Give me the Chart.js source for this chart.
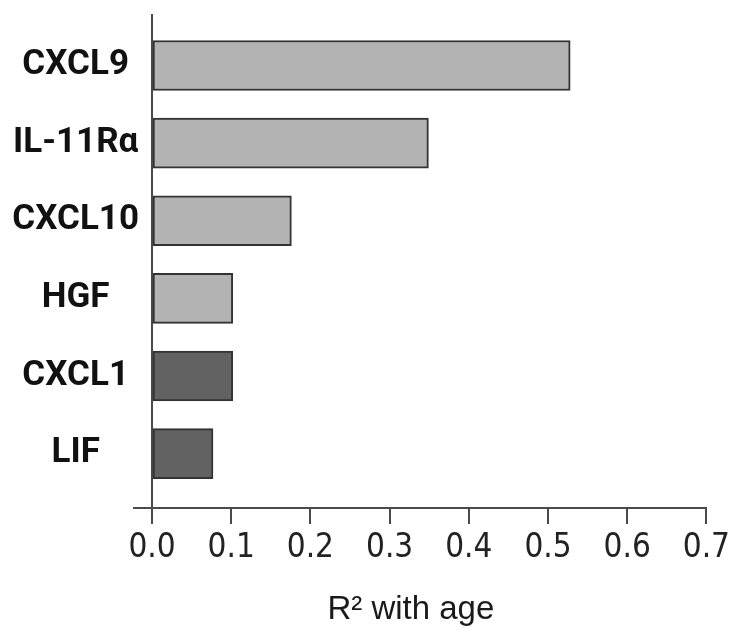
<!DOCTYPE html>
<html>
<head>
<meta charset="utf-8">
<script src="https://cdn.jsdelivr.net/npm/chart.js@4/dist/chart.umd.min.js"></script>
<style>
  html, body { margin: 0; padding: 0; background: #fff; }
  #wrap { width: 735px; height: 636px; }
</style>
</head>
<body>
<div id="wrap"><canvas id="chart" width="735" height="636"></canvas></div>
<script>
// values
const categories = ['CXCL9', 'IL-11Rα', 'CXCL10', 'HGF', 'CXCL1', 'LIF'];
const r2Values = [0.528, 0.349, 0.176, 0.102, 0.102, 0.077];
const barShade = ['light', 'light', 'light', 'light', 'dark', 'dark'];
const xTicks = [0.0, 0.1, 0.2, 0.3, 0.4, 0.5, 0.6, 0.7];

const axisColor = '#4a4a4a';
const shadeColors = { light: '#b3b3b3', dark: '#626262' };

// category index axis as a linear scale so the rows can sit off the edges like the original
const yMin = -0.65;
const yMax = 5.7;

const points = categories.map((name, i) => ({ x: r2Values[i], y: i }));

new Chart(document.getElementById('chart'), {
  type: 'bar',
  data: {
    datasets: [{
      data: points,
      backgroundColor: barShade.map((s) => shadeColors[s]),
      borderColor: '#333',
      borderWidth: 2,
      borderSkipped: false,
      barThickness: 50,
    }],
  },
  options: {
    indexAxis: 'y',
    responsive: false,
    animation: false,
    layout: { padding: { top: 13, left: 12, right: 0, bottom: 0 } },
    plugins: {
      legend: { display: false },
      tooltip: { enabled: false },
    },
    scales: {
      y: {
        type: 'linear',
        reverse: true,
        offset: false,
        min: yMin,
        max: yMax,
        afterBuildTicks: (scale) => {
          scale.ticks = [yMin, 0, 1, 2, 3, 4, 5, yMax].map((v) => ({ value: v }));
        },
        afterFit: (scale) => { scale.width = 140; },
        border: { color: axisColor, width: 2 },
        grid: {
          offset: false,
          drawOnChartArea: false,
          tickLength: 19,
          lineWidth: 2,
          // only the bottom tick shows: it is the stub of the x axis left of the y axis
          color: (ctx) => (ctx.tick && ctx.tick.value === yMax ? axisColor : 'rgba(0,0,0,0)'),
        },
        ticks: {
          crossAlign: 'center',
          padding: -6,
          color: '#111',
          font: { family: 'Roboto', weight: 'bold', size: 35 },
          callback: (v) => (Number.isInteger(v) && categories[v] !== undefined ? categories[v] : ''),
        },
      },
      x: {
        type: 'linear',
        min: 0,
        max: 0.7,
        afterBuildTicks: (scale) => {
          scale.ticks = xTicks.map((v) => ({ value: v }));
        },
        afterFit: (scale) => { scale.height = 128; },
        border: { color: axisColor, width: 2 },
        grid: {
          drawOnChartArea: false,
          tickLength: 16,
          lineWidth: 2,
          color: axisColor,
        },
        ticks: {
          padding: 5,
          color: '#222',
          maxRotation: 0,
          font: { family: '"DejaVu Sans Condensed", "DejaVu Sans", sans-serif', size: 33 },
          callback: (v) => Number(v).toFixed(1),
        },
        title: {
          display: true,
          // trailing spaces nudge the centred title left, as in the original
          text: 'R² with age    ',
          color: '#1a1a1a',
          padding: { top: 14, bottom: 6 },
          font: { family: 'Liberation Sans', size: 33 },
        },
      },
    },
  },
});
</script>
</body>
</html>
